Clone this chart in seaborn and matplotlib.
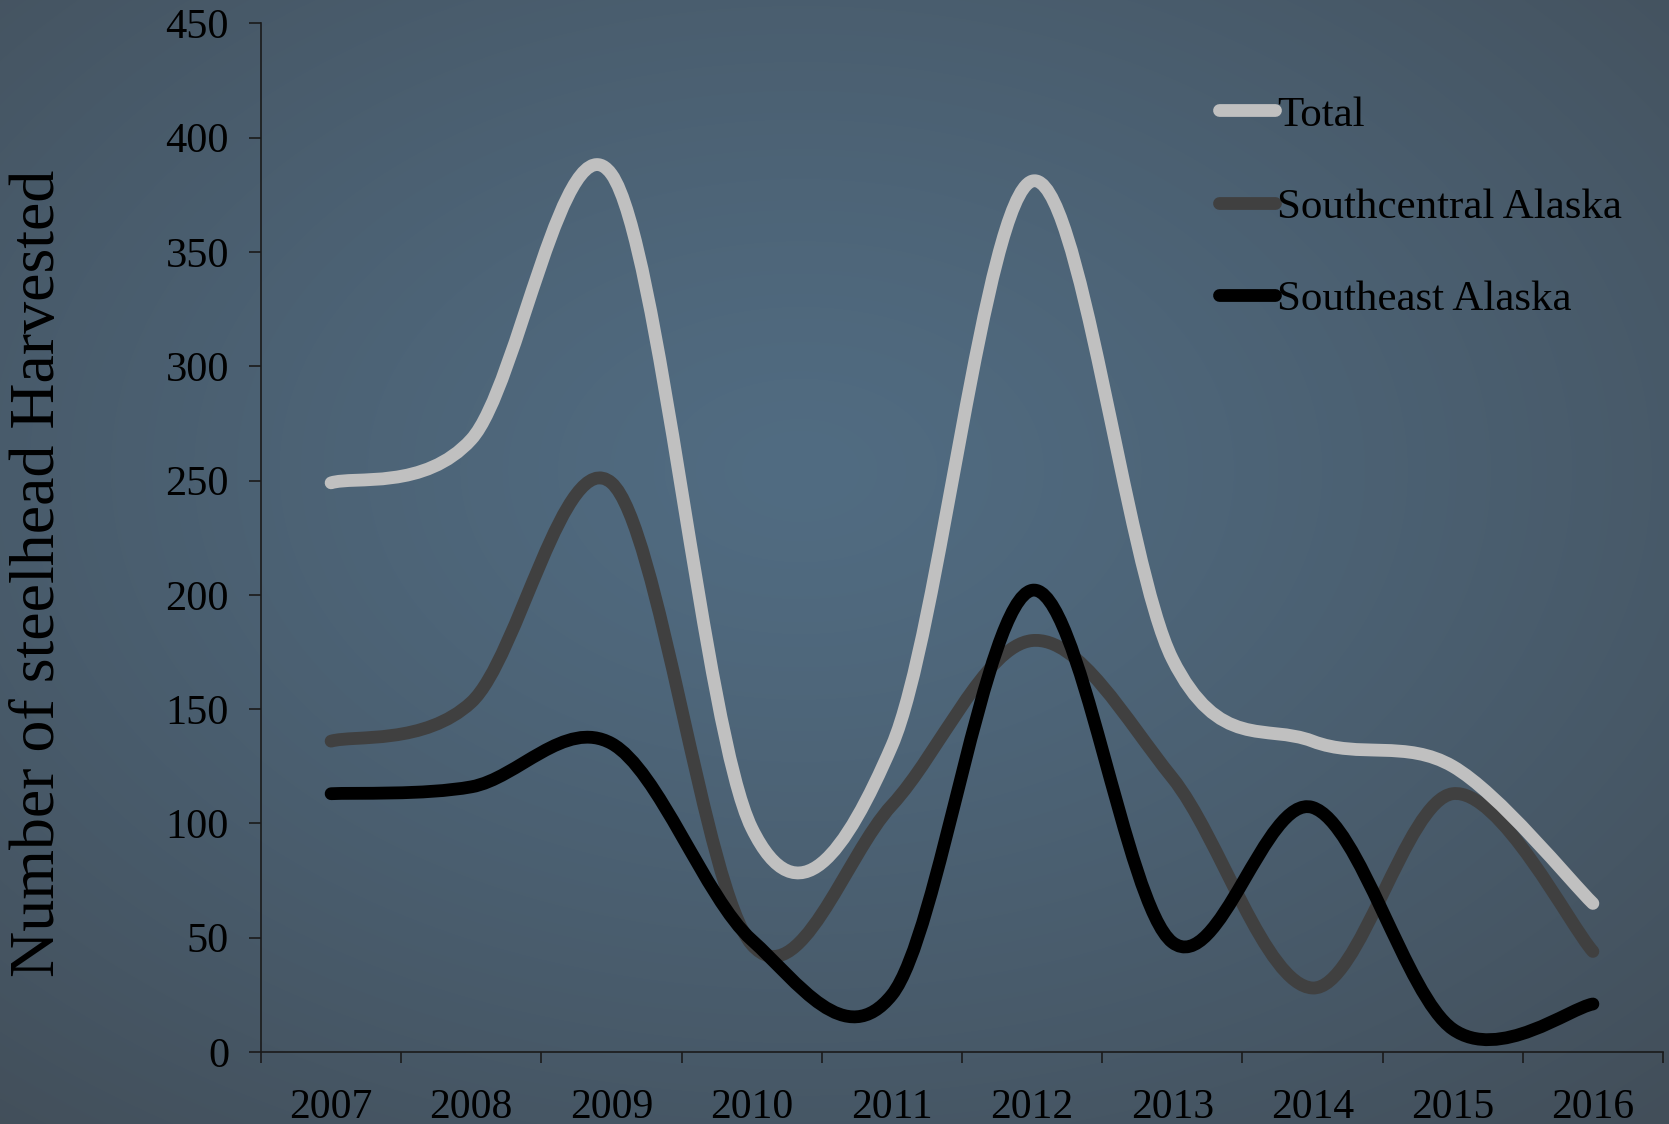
import numpy as np
import seaborn as sns
import matplotlib.pyplot as plt
from matplotlib.path import Path
from matplotlib.patches import PathPatch
from matplotlib.lines import Line2D

years = ["2007", "2008", "2009", "2010", "2011", "2012", "2013", "2014", "2015", "2016"]
total = [249, 268, 384, 98, 134, 381, 172, 136, 125, 65]
southcentral = [136, 153, 249, 47, 108, 180, 120, 28, 113, 44]
southeast = [113, 116, 135, 49, 25, 202, 48, 107, 10, 21]

series_names = ["Total", "Southcentral Alaska", "Southeast Alaska"]
series_colors = ["#C0C0C0", "#404040", "#000000"]

sns.set_style("ticks")
plt.rcParams["font.family"] = ["Liberation Serif", "DejaVu Serif"]


def smooth_path(xs, ys):
    # excel-like smoothed line: cubic bezier through every point
    pts = np.column_stack([xs, ys]).astype(float)
    n = len(pts)
    verts = [pts[0]]
    codes = [Path.MOVETO]
    for i in range(n - 1):
        p0 = pts[max(i - 1, 0)]
        p1 = pts[i]
        p2 = pts[i + 1]
        p3 = pts[min(i + 2, n - 1)]
        verts += [p1 + (p2 - p0) / 6, p2 - (p3 - p1) / 6, p2]
        codes += [Path.CURVE4] * 3
    return Path(verts, codes)


W, H = 1669, 1124
fig = plt.figure(figsize=(W / 100, H / 100), dpi=100)

# radial gradient background
bg = fig.add_axes([0, 0, 1, 1], zorder=-10)
yy, xx = np.mgrid[0:H, 0:W]
r = np.hypot((xx - 800) / W, (yy - 470) / H)
r = r / r.max()
inner = np.array([81, 108, 130]) / 255
outer = np.array([66, 78, 89]) / 255
img = inner + (outer - inner) * (r[..., None] ** 1.2)
bg.imshow(img, aspect="auto", interpolation="bilinear")
bg.axis("off")

left, right = 261 / W, 1663 / W
top, bottom = 1 - 23.4 / H, 1 - 1052 / H
ax = fig.add_axes([left, bottom, right - left, top - bottom])
ax.patch.set_alpha(0)

x = np.arange(len(years))
data = {"Total": total, "Southcentral Alaska": southcentral, "Southeast Alaska": southeast}
zorders = {"Total": 5, "Southcentral Alaska": 3, "Southeast Alaska": 4}
for name, col in zip(series_names, series_colors):
    patch = PathPatch(smooth_path(x, data[name]), fill=False, edgecolor=col,
                      linewidth=9.2, capstyle="round", joinstyle="round",
                      zorder=zorders[name])
    ax.add_patch(patch)

ax.set_xlim(-0.5, len(years) - 0.5)
ax.set_ylim(0, 450)
ax.set_yticks(np.arange(0, 451, 50))
ax.set_xticks(x)
ax.set_xticklabels(years)
ax.set_xticks(np.arange(-0.5, len(years), 1), minor=True)
ax.tick_params(axis="x", which="major", length=0, pad=26, labelsize=30, labelcolor="black")
ax.tick_params(axis="x", which="minor", length=8, width=1.2, color="#1a1a1a", direction="out")
ax.tick_params(axis="y", length=9, width=1.2, color="#1a1a1a", pad=14, labelsize=30.5,
               labelcolor="black", direction="out")
sns.despine(ax=ax)
for s in ["left", "bottom"]:
    ax.spines[s].set_color("#1a1a1a")
    ax.spines[s].set_linewidth(1.2)

fig.text(39 / W, 1 - 573.7 / H, "Number of steelhead Harvested", rotation=90,
         ha="center", va="center", fontsize=46, color="black")

handles = [Line2D([0], [0], color=c, lw=9.2, solid_capstyle="round") for c in series_colors]
ax.legend(handles, series_names, loc="upper left", bbox_to_anchor=(0.683, 0.93),
          frameon=False, fontsize=31, handlelength=1.3, handletextpad=0.05,
          labelspacing=1.23, borderpad=0, borderaxespad=0, labelcolor="black")

fig.savefig("out.png", dpi=100)
